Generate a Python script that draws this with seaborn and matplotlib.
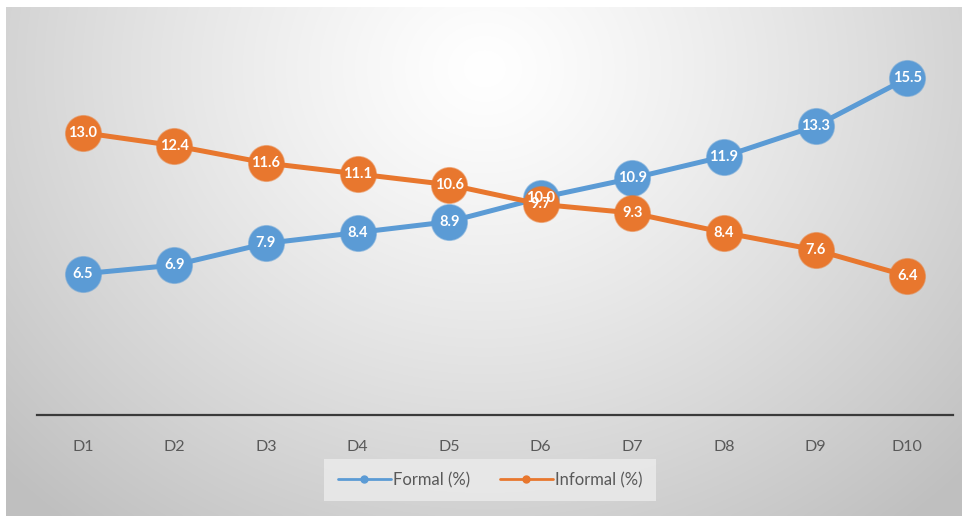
import numpy as np
import pandas as pd
import matplotlib
matplotlib.use("Agg")
import matplotlib.pyplot as plt
import seaborn as sns

deciles = ["D1", "D2", "D3", "D4", "D5", "D6", "D7", "D8", "D9", "D10"]
formal = [6.5, 6.9, 7.9, 8.4, 8.9, 10.0, 10.9, 11.9, 13.3, 15.5]
informal = [13.0, 12.4, 11.6, 11.1, 10.6, 9.7, 9.3, 8.4, 7.6, 6.4]
series_names = ["Formal (%)", "Informal (%)"]

BLUE = "#5b9bd5"
ORANGE = "#e8772e"
TEXT_GREY = "#595959"

sns.set_theme(style="white")
plt.rcParams["font.family"] = ["Lato", "DejaVu Sans"]

df = pd.DataFrame({
    "decile": deciles * 2,
    "value": formal + informal,
    "series": [series_names[0]] * len(deciles) + [series_names[1]] * len(deciles),
})

fig = plt.figure(figsize=(9.66, 5.16), dpi=100, facecolor="white")

# soft radial backdrop behind the chart
bg = fig.add_axes([6 / 966, 0, 956 / 966, 509 / 516], zorder=-5)
h, w = 300, 560
yy, xx = np.mgrid[0:h, 0:w]
cx, cy = w * 0.5, h * 0.12
r = np.sqrt(((xx - cx) / (w * 0.60)) ** 2 + ((yy - cy) / (h * 1.0)) ** 2)
shade = 1.0 - 0.21 * np.clip(r, 0, 1.15) ** 1.2
bg.imshow(np.dstack([shade] * 3), aspect="auto", extent=[0, 1, 0, 1],
          interpolation="bilinear")
bg.axis("off")

ax = fig.add_axes([37 / 966, 101 / 516, 916 / 966, 391 / 516])
ax.set_facecolor("none")

palette = {series_names[0]: BLUE, series_names[1]: ORANGE}
sns.lineplot(data=df, x="decile", y="value", hue="series", palette=palette,
             marker="o", markersize=25.5, linewidth=3.6, sort=False,
             markeredgewidth=1.2, ax=ax, legend=False)
for line, col in zip(ax.lines, [BLUE, ORANGE]):
    line.set_markeredgecolor(matplotlib.colors.to_rgba(col, 0.55))
    line.set_markerfacecolor(col)

for vals in (formal, informal):
    for i, v in enumerate(vals):
        ax.text(i, v, f"{v:.1f}", ha="center", va="center", color="white",
                fontsize=10.5, fontweight="bold", zorder=10)

ax.set_xlim(-0.5, 9.5)
ax.set_ylim(0, 18)
ax.set_yticks([])
ax.set_xlabel("")
ax.set_ylabel("")
for s in ["top", "right", "left"]:
    ax.spines[s].set_visible(False)
ax.spines["bottom"].set_color("#3a3a3a")
ax.spines["bottom"].set_linewidth(1.6)
ax.tick_params(axis="x", length=0, pad=18, labelsize=11.5, labelcolor=TEXT_GREY)

handles = [
    matplotlib.lines.Line2D([], [], color=BLUE, lw=2, marker="o", markersize=5),
    matplotlib.lines.Line2D([], [], color=ORANGE, lw=2, marker="o", markersize=5),
]
leg = fig.legend(handles, series_names, loc="center", bbox_to_anchor=(490 / 966, 1 - 480 / 516),
                 ncol=2, frameon=True, fontsize=12, handlelength=3.2,
                 handletextpad=0.1, columnspacing=1.8, borderpad=0.8,
                 fancybox=False)
leg.get_frame().set_facecolor("#ececec")
leg.get_frame().set_edgecolor("none")
for t in leg.get_texts():
    t.set_color(TEXT_GREY)

fig.savefig("out.png", dpi=100, facecolor="white")
